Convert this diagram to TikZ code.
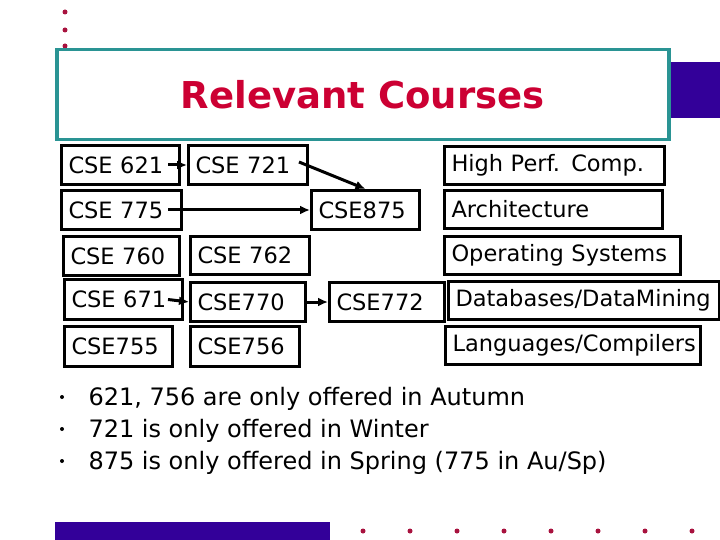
\documentclass[tikz,border=0pt]{standalone}
\usepackage{fontspec}
\setmainfont{DejaVu Sans}
\usetikzlibrary{arrows.meta}
\definecolor{dotred}{HTML}{A8123E}
\definecolor{titlered}{HTML}{CC0033}
\definecolor{frameteal}{HTML}{2A9494}
\definecolor{barpurple}{HTML}{330099}

\begin{document}
\begin{tikzpicture}[x=1pt, y=-1pt,
    course/.style={draw, line width=3pt, rectangle, anchor=north west, align=left, inner xsep=7pt, inner ysep=0pt, font=\fontsize{22.5}{24}\selectfont},
    link/.style={-{Latex[length=10pt, width=9pt]}, line width=3pt},
    note/.style={anchor=base west, font=\fontsize{24}{26}\selectfont}]
    \useasboundingbox (0,0) rectangle (720,540);

    % slide decoration
    \fill[dotred] (65,12) circle (2.5);
    \fill[dotred] (65,30) circle (2.5);
    \fill[dotred] (65,46) circle (2.5);
    \fill[barpurple] (668,62) rectangle (720,118);
    \fill[barpurple] (55,522) rectangle (330,540);
    \foreach \x in {363,410,457,504,551,598,645,692}
        \fill[dotred] (\x,531) circle (2.5);

    % title
    \node[draw=frameteal, line width=3.5pt, fill=white, anchor=north west, minimum width=612, minimum height=90, text=titlered, font=\bfseries\fontsize{37}{40}\selectfont] at (55,48) (title) {Relevant Courses};

    % courses
    \node[course, text width=104pt, minimum height=39pt] at (60,144) (C621) {CSE 621};
    \node[course, text width=105pt, minimum height=39pt] at (187,144) (C721) {CSE 721};
    \node[course, text width=106pt, minimum height=39pt] at (60,189) (C775) {CSE 775};
    \node[course, text width=94pt, minimum height=39pt] at (310,189) (C875) {CSE875};
    \node[course, text width=102pt, minimum height=39pt] at (62,235) (C760) {CSE 760};
    \node[course, text width=105pt, minimum height=38pt] at (189,235) (C762) {CSE 762};
    \node[course, text width=104pt, minimum height=40pt] at (63,278) (C671) {CSE 671};
    \node[course, text width=101pt, minimum height=39pt] at (189,281) (C770) {CSE770};
    \node[course, text width=101pt, minimum height=39pt] at (328,281) (C772) {CSE772};
    \node[course, text width=94pt, minimum height=40pt] at (63,325) (C755) {CSE755};
    \node[course, text width=95pt, minimum height=40pt] at (189,325) (C756) {CSE756};

    % areas
    \node[course, text width=206pt, minimum height=38pt] at (443,145) (hpc) {High Perf. Comp.};
    \node[course, text width=204pt, minimum height=38pt] at (443,189) (arch) {Architecture};
    \node[course, text width=222pt, minimum height=38pt] at (443,235) (os) {Operating Systems};
    \node[course, text width=257pt, minimum height=38pt] at (447,280) (db) {Databases/DataMining};
    \node[course, text width=241pt, minimum height=38pt] at (444,325) (lang) {Languages/Compilers};

    \draw[link] ([xshift=-13pt]C621.east) -- (C721.west);
    \draw[link] ([xshift=-10pt, yshift=3pt]C721.east) -- (C875.north);
    \draw[link] ([xshift=-15pt]C775.east) -- (C875.west);
    \draw[link] ([xshift=-16pt]C671.east) -- (C770.west);
    \draw[link] (C770.east) -- (C772.west);

    % notes
    \foreach \y in {397,429,461}
        \fill (62,\y) circle (2);
    \node[note] at (85,405) (note1) {621, 756 are only offered in Autumn};
    \node[note] at (85,437) (note2) {721 is only offered in Winter};
    \node[note] at (85,469) (note3) {875 is only offered in Spring (775 in Au/Sp)};
\end{tikzpicture}
\end{document}
